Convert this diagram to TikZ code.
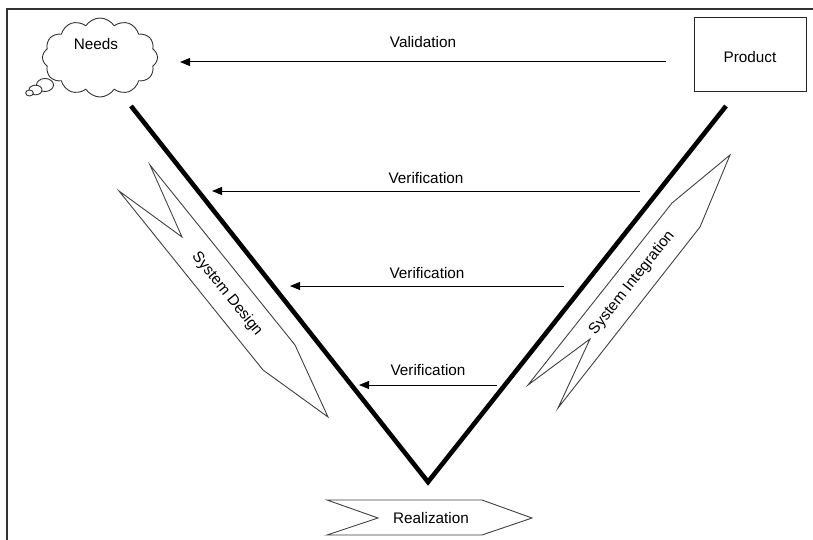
\documentclass[tikz,border=0pt]{standalone}
\usepackage{fontspec}
\setmainfont{Liberation Sans}
\usetikzlibrary{arrows.meta,shapes.symbols}
\begin{document}
\begin{tikzpicture}[x=1pt,y=-1pt,
  every node/.style={font=\fontsize{15.3}{18}\selectfont, inner sep=0pt},
  frameline/.style={draw=black!80, line width=1.4},
  vline/.style={draw=black, line width=4.6},
  flow/.style={draw=black, line width=1, -{Triangle[length=10,width=8]}},
  chevron/.style={draw=black!75, line width=0.9, fill=white},
  box/.style={draw=black!85, line width=1, minimum width=112, minimum height=74},
  bubble/.style={draw=black!80, line width=0.9, fill=white}
]
\useasboundingbox (0,0) rectangle (813,540);

% outer frame (left and top edges)
\draw[frameline] (7,540) -- (7,9) -- (813,9);

% thought bubble for the needs
\draw[bubble] (45,85) ellipse [x radius=8.5, y radius=6.5];
\draw[bubble] (35.5,90) ellipse [x radius=6.5, y radius=4.8];
\draw[bubble] (29.5,93) ellipse [x radius=3.8, y radius=3];
\node[cloud, bubble, cloud puffs=12, cloud puff arc=115, aspect=1.45,
      minimum width=115, minimum height=79] (needs) at (100,57.5) {};
\node (needslabel) at (96,44) {Needs};

% product box
\node[box] (product) at (750,55) {};
\node (productlabel) at (750,57) {Product};

% the V
\coordinate (vl) at (131,106);
\coordinate (vb) at (428,482);
\coordinate (vr) at (726,106);
\draw[vline] (vl) -- (vb) -- (vr);

% validation and verification arrows
\coordinate (vals) at (666,62);  \coordinate (vale) at (180,62);
\coordinate (v1s) at (640,191);  \coordinate (v1e) at (212,191);
\coordinate (v2s) at (564,286);  \coordinate (v2e) at (290,286);
\coordinate (v3s) at (497,385);  \coordinate (v3e) at (359,385);
\draw[flow] (vals) -- node[above=14] {Validation} (vale);
\draw[flow] (v1s) -- node[above=7] {Verification} (v1e);
\draw[flow] (v2s) -- node[above=7] {Verification} (v2e);
\draw[flow] (v3s) -- node[above=9] {Verification} (v3e);

% system design chevron
\draw[chevron] (150,165) -- (182,237) -- (119,191) -- (263,370)
  -- (328,417) -- (295,345) -- cycle;
\node[rotate=-51.1] (design) at (227,294) {System Design};

% system integration chevron
\draw[chevron] (730,155) -- (672,203) -- (528,385) -- (590,339)
  -- (558,408) -- (700,227) -- cycle;
\node[rotate=51.6] (integration) at (632,283) {System Integration};

% realization chevron
\draw[chevron] (327,500) -- (482,500) -- (532,518) -- (482,535)
  -- (327,535) -- (378,518) -- cycle;
\node (realization) at (431,518) {Realization};
\end{tikzpicture}
\end{document}
